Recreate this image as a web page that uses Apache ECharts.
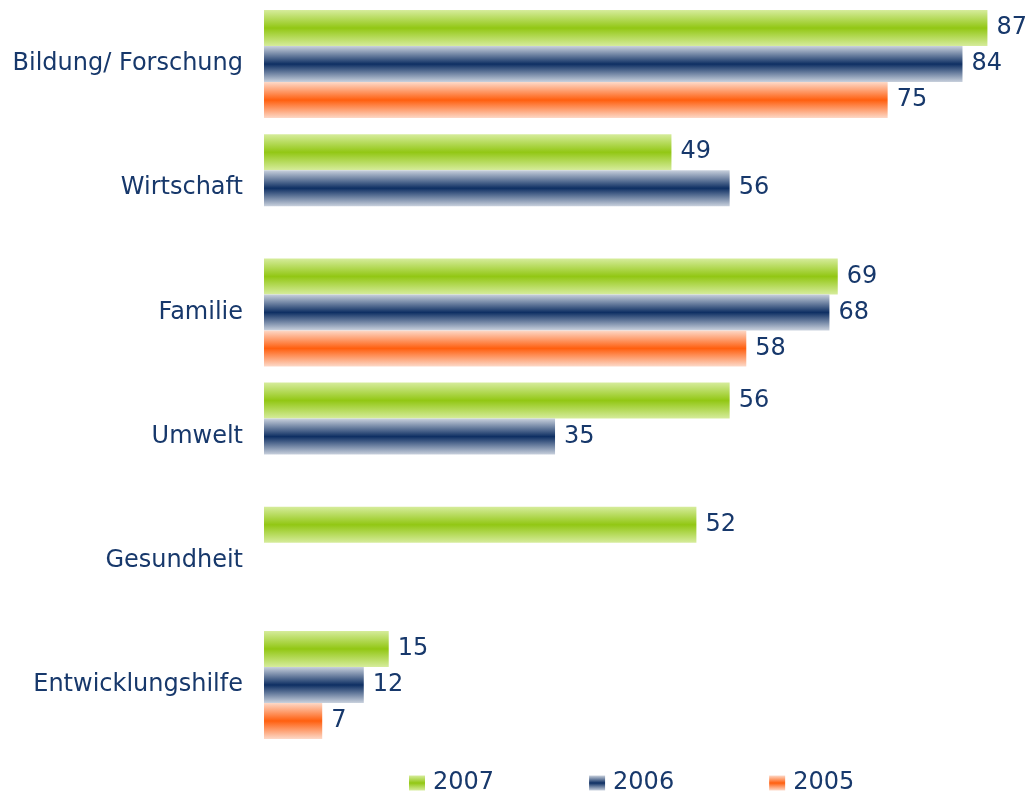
<!DOCTYPE html>
<html>
<head>
<meta charset="utf-8">
<script src="https://cdn.jsdelivr.net/npm/echarts@6/dist/echarts.min.js"></script>
<style>
  html, body { margin: 0; padding: 0; background: #fff; }
  #chart { width: 1029px; height: 799px; }
</style>
</head>
<body>
<div id="chart"></div>
<script>
const categories = ['Bildung/ Forschung', 'Wirtschaft', 'Familie', 'Umwelt', 'Gesundheit', 'Entwicklungshilfe']
const years = ['2007', '2006', '2005']
const values2007 = [87, 49, 69, 56, 52, 15]
const values2006 = [84, 56, 68, 35, null, 12]
const values2005 = [75, null, 58, null, null, 7]

const textColor = '#17386b'
const fontFamily = 'DejaVu Sans, Verdana, sans-serif'

function grad(light, dark) {
  return new echarts.graphic.LinearGradient(0, 0, 0, 1, [
    { offset: 0, color: light },
    { offset: 0.5, color: dark },
    { offset: 1, color: light }
  ])
}

const colors = [
  grad('#d6ec9c', '#92c714'),
  grad('#c9d1dd', '#0e2f63'),
  grad('#fdd9c8', '#ff5f0f')
]

const seriesData = [values2007, values2006, values2005]

const chart = echarts.init(document.getElementById('chart'))

chart.setOption({
  animation: false,
  textStyle: { fontFamily },
  grid: {
    left: 264,
    right: 0,
    top: 2,
    bottom: 52
  },
  legend: {
    left: 404,
    top: 766,
    itemWidth: 16,
    itemHeight: 15,
    itemGap: 95,
    icon: 'rect',
    textStyle: { color: textColor, fontSize: 24, fontFamily, padding: [0, 0, 0, 3] },
    data: years
  },
  xAxis: {
    type: 'value',
    min: 0,
    max: 92,
    show: false
  },
  yAxis: {
    type: 'category',
    inverse: true,
    data: categories,
    axisLine: { show: false },
    axisTick: { show: false },
    axisLabel: {
      color: textColor,
      fontSize: 24,
      fontFamily,
      margin: 21
    }
  },
  series: years.map((y, i) => ({
    name: y,
    type: 'bar',
    data: seriesData[i],
    barGap: '0%',
    barCategoryGap: '13%',
    itemStyle: { color: colors[i] },
    label: {
      show: true,
      position: 'right',
      distance: 9,
      color: textColor,
      fontSize: 24,
      fontFamily
    }
  }))
})
</script>
</body>
</html>
